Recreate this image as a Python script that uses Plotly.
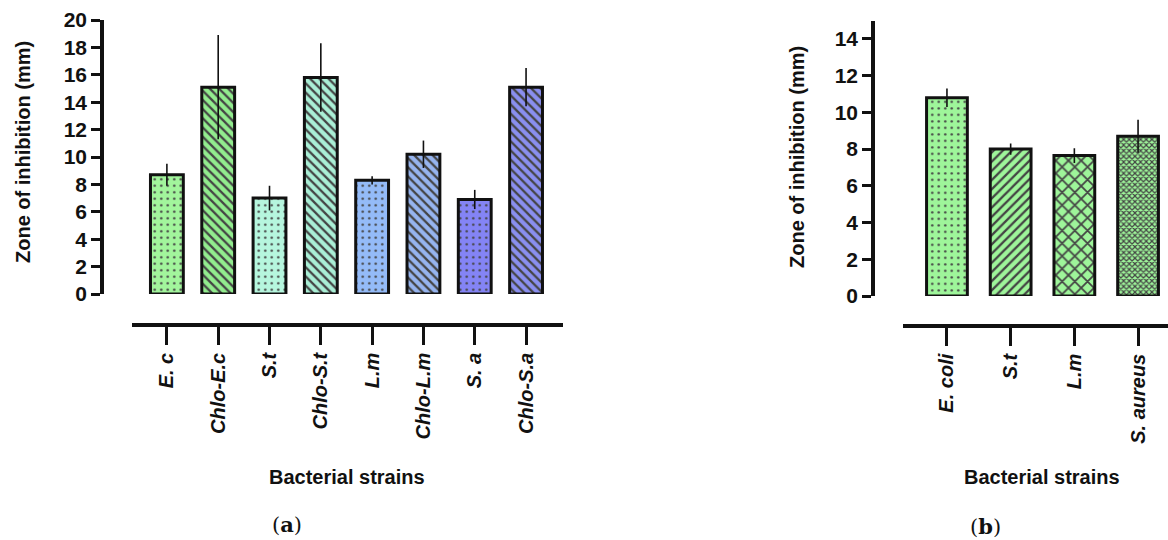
import plotly.graph_objects as go

# Panel (a) data
cats_a = ["E. c", "Chlo-E.c", "S.t", "Chlo-S.t", "L.m", "Chlo-L.m", "S. a", "Chlo-S.a"]
vals_a = [8.7, 15.1, 7.0, 15.8, 8.3, 10.2, 6.9, 15.1]
errs_a = [0.8, 3.8, 0.9, 2.5, 0.3, 1.0, 0.7, 1.4]
colors_a = ["#a2f59c", "#92ec8e", "#b6f6de", "#aaefd6", "#94bbf8", "#96b4ef", "#8484f5", "#8a8fef"]
shapes_a = [".", "\\", ".", "\\", ".", "\\", ".", "\\"]

# Panel (b) data
cats_b = ["E. coli", "S.t", "L.m", "S. aureus"]
vals_b = [10.8, 8.0, 7.65, 8.7]
errs_b = [0.5, 0.3, 0.4, 0.9]
colors_b = ["#9ef59a", "#9ef59a", "#9ef59a", "#9ef59a"]
shapes_b = [".", "/", "x", "x"]
sizes_b = [6.5, 6.5, 9, 4]
solid_b = [0.12, 0.35, 0.35, 0.5]

W, H = 1168, 540
px = lambda x: x / W
py = lambda y: 1 - y / H

FONT = "Liberation Sans, Arial, sans-serif"

fig = go.Figure()

fig.add_trace(go.Bar(
    x=cats_a, y=vals_a, xaxis="x", yaxis="y",
    error_y=dict(type="data", array=errs_a, visible=True, width=0, thickness=1.6, color="#111"),
    marker=dict(
        color=colors_a,
        line=dict(color="#111", width=3),
        pattern=dict(shape=shapes_a, fgcolor="#111",
                     size=6.5,
                     solidity=[0.12 if s == "." else 0.35 for s in shapes_a],
                     fillmode="overlay", fgopacity=1),
    ),
    showlegend=False,
))

fig.add_trace(go.Bar(
    x=cats_b, y=vals_b, xaxis="x2", yaxis="y2",
    error_y=dict(type="data", array=errs_b, visible=True, width=0, thickness=1.6, color="#111"),
    marker=dict(
        color=colors_b,
        line=dict(color="#111", width=3),
        pattern=dict(shape=shapes_b, fgcolor="#111",
                     size=sizes_b, solidity=solid_b, fillmode="overlay", fgopacity=1),
    ),
    showlegend=False,
))

tickfont_y = dict(family=FONT, size=21, color="#111", weight="bold")
tickfont_x = dict(family=FONT, size=20, color="#111", weight="bold", style="italic")

common_y = dict(showgrid=False, zeroline=False, showline=True, linecolor="#111", linewidth=3.5,
                ticks="outside", ticklen=9, tickwidth=3, tickcolor="#111",
                tickfont=tickfont_y, automargin=False, anchor="free")
common_x = dict(showgrid=False, zeroline=False, showline=True, linecolor="#111", linewidth=3.5,
                ticks="outside", ticklen=18, tickwidth=3, tickcolor="#111",
                tickfont=tickfont_x, tickangle=-90, automargin=False, anchor="free",
                type="category")

fig.update_layout(
    width=W, height=H,
    margin=dict(l=0, r=0, t=0, b=0),
    paper_bgcolor="white", plot_bgcolor="white",
    bargap=0.36,
    xaxis=dict(common_x, domain=[px(132), px(563)], range=[-0.68, 7.72], position=py(325)),
    yaxis=dict(common_y, domain=[py(294), py(20)], range=[0, 20], dtick=2, position=px(102)),
    xaxis2=dict(common_x, domain=[px(903), 1.0], range=[-0.69, 3.47], position=py(326)),
    yaxis2=dict(common_y, domain=[py(296), py(20.6)], range=[0, 15], tickvals=list(range(0, 15, 2)),
                position=px(873)),
)

ann = []
title_font = dict(family=FONT, size=20, color="#111", weight="bold")
ann.append(dict(text="Zone of inhibition (mm)", x=px(23), y=py(152), xref="paper", yref="paper",
                textangle=-90, showarrow=False, font=title_font, xanchor="center", yanchor="middle"))
ann.append(dict(text="Zone of inhibition (mm)", x=px(797), y=py(157), xref="paper", yref="paper",
                textangle=-90, showarrow=False, font=title_font, xanchor="center", yanchor="middle"))
ann.append(dict(text="Bacterial strains", x=px(347), y=py(477), xref="paper", yref="paper",
                showarrow=False, font=title_font, xanchor="center", yanchor="middle"))
ann.append(dict(text="Bacterial strains", x=px(1042), y=py(477), xref="paper", yref="paper",
                showarrow=False, font=title_font, xanchor="center", yanchor="middle"))
serif = dict(family="DejaVu Serif, Liberation Serif, serif", size=21, color="#111")
ann.append(dict(text="(<b>a</b>)", x=px(287), y=py(524), xref="paper", yref="paper",
                showarrow=False, font=serif, xanchor="center", yanchor="middle"))
ann.append(dict(text="(<b>b</b>)", x=px(985), y=py(526), xref="paper", yref="paper",
                showarrow=False, font=serif, xanchor="center", yanchor="middle"))
fig.update_layout(annotations=ann)

fig.write_html("out.html")
